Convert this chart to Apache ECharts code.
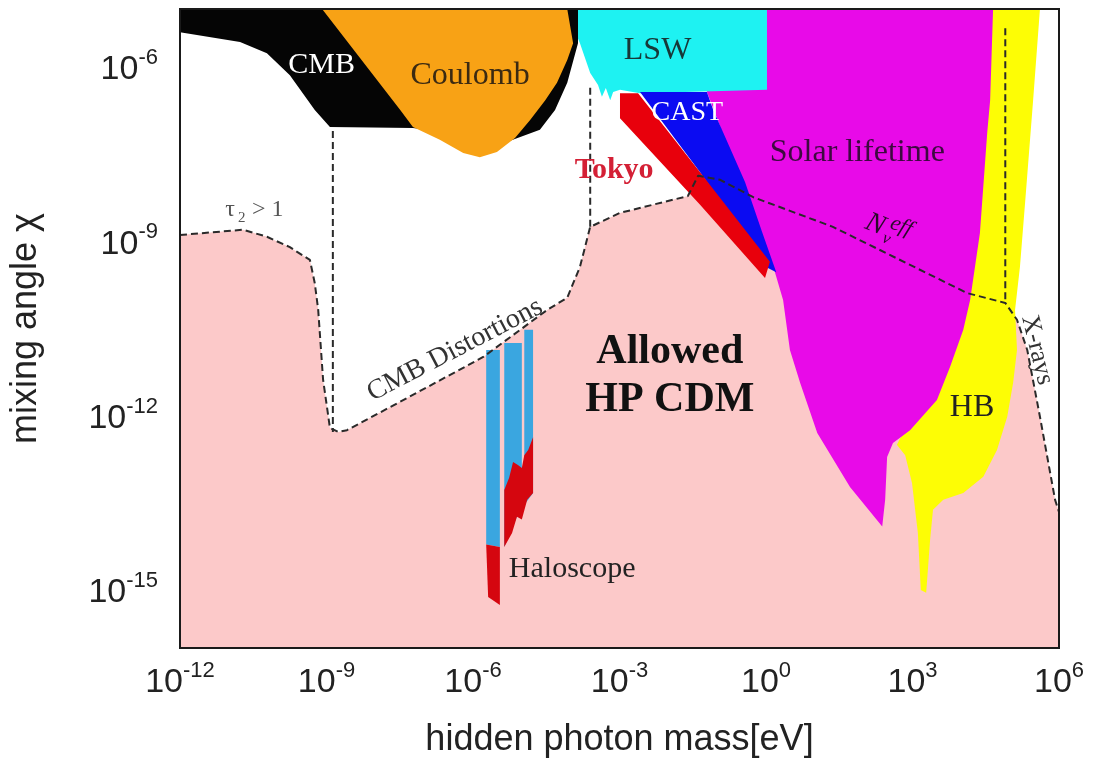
<!DOCTYPE html>
<html><head><meta charset="utf-8">
<script src="https://cdn.jsdelivr.net/npm/echarts@6/dist/echarts.min.js"></script>
<style>html,body{margin:0;padding:0;background:#fff}#c{width:1096px;height:767px}</style>
</head><body><div id="c"></div>
<script>
// All points are [log10(hidden photon mass / eV), log10(mixing angle chi)]
const xTickExponents = [-12, -9, -6, -3, 0, 3, 6];
const yTickExponents = [-15, -12, -9, -6];

// dashed boundary of the allowed HP CDM region (tau2>1, CMB distortions, N_eff, X-rays)
const allowedBoundary = [[-12.00,-8.89],[-10.71,-8.80],[-10.22,-8.92],[-9.75,-9.10],[-9.34,-9.32],[-9.24,-9.72],[-9.17,-10.18],[-9.07,-11.38],[-8.93,-12.21],[-8.76,-12.28],[-8.58,-12.25],[-7.49,-11.76],[-5.79,-10.99],[-4.48,-10.18],[-4.07,-9.97],[-3.81,-9.44],[-3.60,-8.75],[-2.99,-8.51],[-1.60,-8.22],[-1.39,-7.87],[-0.94,-7.94],[-0.26,-8.24],[1.37,-8.75],[4.12,-9.89],[4.90,-10.06],[5.14,-10.35],[5.35,-10.87],[5.61,-12.02],[5.92,-13.45],[6.00,-13.66]];
const allowedCorners = [[6.00,-16],[-12.00,-16]];
const cmbDistLeft = [[-8.87,-7.10],[-8.87,-12.28]];
const cmbDistRight = [[-3.60,-8.75],[-3.60,-6.31]];
const xrayVertical = [[4.90,-5.33],[4.90,-10.06]];

const cmbRegion = [[-12,-5],[-3.85,-5],[-3.85,-5.59],[-4.07,-6.27],[-4.32,-6.74],[-4.63,-7.08],[-5.24,-7.27],[-7.23,-7.05],[-8.93,-7.03],[-9.24,-6.74],[-9.75,-6.14],[-10.22,-5.76],[-10.77,-5.57],[-12,-5.40]];
const coulombRegion = [[-9.09,-5],[-4.07,-5],[-3.95,-5.59],[-4.07,-5.88],[-4.28,-6.27],[-4.52,-6.57],[-4.83,-6.91],[-5.14,-7.22],[-5.51,-7.46],[-5.86,-7.55],[-6.20,-7.48],[-6.68,-7.25],[-7.23,-7.03],[-7.49,-6.74]];
const lswRegion = [[-4.07,-5],[0.02,-5],[0.02,-6.39],[-2.58,-6.45],[-2.99,-6.39],[-3.13,-6.43],[-3.19,-6.57],[-3.28,-6.36],[-3.36,-6.51],[-3.44,-6.31],[-3.60,-6.10],[-3.81,-5.59],[-4.01,-5.19]];
const solarRegion = [[-1.21,-5],[4.65,-5],[4.59,-6.57],[4.53,-7.13],[4.38,-8.86],[4.18,-10.01],[4.04,-10.52],[3.77,-11.16],[3.50,-11.73],[2.95,-12.25],[2.60,-12.47],[2.48,-12.71],[2.44,-13.45],[2.38,-13.91],[1.72,-13.23],[1.05,-12.30],[0.70,-11.44],[0.49,-10.87],[0.35,-10.01],[0.12,-9.35],[-1.21,-6.43]];
const hbRegion = [[4.28,-5],[5.61,-5],[5.47,-6.57],[5.31,-8.29],[5.20,-9.44],[5.10,-10.18],[5.14,-10.87],[5.06,-11.44],[4.94,-12.02],[4.73,-12.59],[4.45,-13.05],[4.04,-13.33],[3.63,-13.45],[3.42,-13.62],[3.36,-14.14],[3.28,-15.05],[3.17,-15.00],[3.11,-14.02],[2.99,-13.16],[2.85,-12.68],[2.68,-12.50],[3.15,-11.73],[3.77,-10.01]];
const castRegion = [[-2.68,-6.43],[-1.21,-6.43],[-1.08,-6.74],[-0.43,-7.98],[-0.08,-8.84],[0.21,-9.53],[0.04,-9.46],[-1.35,-7.81],[-2.58,-6.43]];
const tokyoRegion = [[-2.99,-6.45],[-2.62,-6.45],[-1.35,-7.81],[0.08,-9.35],[-0.02,-9.63],[-1.35,-8.37],[-2.99,-6.88]];
const haloBlue1 = [[-5.73,-10.87],[-5.45,-10.87],[-5.45,-14.26],[-5.73,-14.22]];
const haloBlue2 = [[-5.36,-10.75],[-5.00,-10.75],[-5.00,-13.54],[-5.36,-14.26]];
const haloBlue3 = [[-4.95,-10.52],[-4.77,-10.52],[-4.77,-13.33],[-4.95,-13.54]];
const haloRed1 = [[-5.73,-14.22],[-5.45,-14.26],[-5.45,-15.26],[-5.69,-15.12]];
const haloRed2 = [[-5.36,-13.28],[-5.26,-13.07],[-5.18,-12.80],[-5.08,-12.85],[-5.00,-12.90],[-4.95,-12.68],[-4.87,-12.59],[-4.77,-12.37],[-4.77,-13.33],[-4.89,-13.45],[-5.00,-13.79],[-5.10,-13.74],[-5.20,-14.02],[-5.36,-14.26]];

// text annotations: [id, log10 mass, log10 chi]
const annotations = [
  ['CMB', -9.10, -5.96], ['Coulomb', -6.06, -6.14], ['LSW', -2.22, -5.71], ['CAST', -1.61, -6.79],
  ['Tokyo', -3.11, -7.77], ['Solar lifetime', 1.87, -7.48], ['Neff', 2.50, -8.80], ['tau', -10.36, -8.46],
  ['CMB Distortions', -6.37, -10.87], ['Allowed', -1.97, -10.90], ['HP CDM', -1.97, -11.73],
  ['HB', 4.22, -11.87], ['X-rays', 5.55, -10.87], ['Haloscope', -3.97, -14.65]
];

const SERIF = "'Liberation Serif','DejaVu Serif',serif";
const SANS = "'Liberation Sans',Arial,sans-serif";
const annStyle = {
  'CMB': {fill:'#ffffff', fontSize:30},
  'Coulomb': {fill:'#3b2a12', fontSize:32},
  'LSW': {fill:'#173838', fontSize:32},
  'CAST': {fill:'#ffffff', fontSize:28},
  'Tokyo': {fill:'#d42035', fontSize:30, fontWeight:'bold'},
  'Solar lifetime': {fill:'#3d0a40', fontSize:32},
  'CMB Distortions': {fill:'#333333', fontSize:28, rotation:0.48},
  'Allowed': {fill:'#111111', fontSize:42, fontWeight:'bold'},
  'HP CDM': {fill:'#111111', fontSize:42, fontWeight:'bold'},
  'HB': {fill:'#222222', fontSize:32},
  'X-rays': {fill:'#333333', fontSize:26, rotation:-1.33},
  'Haloscope': {fill:'#222222', fontSize:30}
};

function poly(pts, color, z) {
  return {
    type:'custom', z:z, silent:true, clip:true,
    data:[pts[0]],
    renderItem:function(params, api){
      return {type:'polygon', shape:{points: pts.map(function(p){return api.coord(p);})}, style:{fill:color}};
    }
  };
}
function dashed(pts) {
  return {type:'line', z:20, silent:true, data:pts, showSymbol:false, symbol:'none',
    lineStyle:{color:'#2a2a2a', width:2, type:[7,4]}};
}

const labelRich = {
  b:{fontSize:34, lineHeight:40, fontFamily:SANS, color:'#222', verticalAlign:'bottom'},
  s:{fontSize:22, lineHeight:22, fontFamily:SANS, color:'#222', verticalAlign:'top'}
};

const chart = echarts.init(document.getElementById('c'), null, {renderer:'canvas'});
chart.setOption({
  animation:false,
  backgroundColor:'#ffffff',
  grid:{left:180, right:37, top:9, bottom:119, containLabel:false, outerBoundsMode:'none',
    show:true, borderColor:'#1a1a1a', borderWidth:2, z:30, backgroundColor:'transparent'},
  xAxis:{type:'value', min:-12, max:6, interval:3,
    axisLine:{show:false}, axisTick:{show:false}, splitLine:{show:false},
    axisLabel:{margin:12, formatter:function(v){ return xTickExponents.indexOf(v) >= 0 ? '{b|10}{s|' + v + '}' : ''; }, rich:labelRich},
    name:'hidden photon mass[eV]', nameLocation:'middle', nameGap:74,
    nameTextStyle:{fontSize:36, fontFamily:SANS, color:'#222'}},
  yAxis:{type:'value', min:-16, max:-5, interval:1,
    axisLine:{show:false}, axisTick:{show:false}, splitLine:{show:false},
    axisLabel:{margin:22, formatter:function(v){ return yTickExponents.indexOf(v) >= 0 ? '{b|10}{s|' + v + '}' : ''; }, rich:labelRich},
    name:'mixing angle \u03c7', nameLocation:'middle', nameGap:136, nameRotate:90,
    nameTextStyle:{fontSize:36, fontFamily:SANS, color:'#222'}},
  series:[
    poly(allowedBoundary.concat(allowedCorners), '#fcc9c9', 2),
    poly(hbRegion, '#fdfd05', 3),
    poly(solarRegion, '#e80ae8', 4),
    poly(lswRegion, '#1ef2f2', 5),
    poly(cmbRegion, '#050505', 5),
    poly(coulombRegion, '#f8a215', 6),
    poly(castRegion, '#0b0bf2', 7),
    poly(tokyoRegion, '#e8000c', 8),
    poly(haloBlue1, '#3aa6e0', 9),
    poly(haloBlue2, '#3aa6e0', 9),
    poly(haloBlue3, '#3aa6e0', 9),
    poly(haloRed1, '#d5060f', 10),
    poly(haloRed2, '#d5060f', 10),
    dashed(allowedBoundary), dashed(cmbDistLeft), dashed(cmbDistRight), dashed(xrayVertical),
    {
      type:'custom', z:25, silent:true, clip:false,
      data: annotations.map(function(a, i){ return [a[1], a[2], i]; }),
      renderItem:function(params, api){
        const a = annotations[api.value(2)];
        const p = api.coord([api.value(0), api.value(1)]);
        if (a[0] === 'Neff') {
          return {type:'group', x:p[0], y:p[1], rotation:-0.38, children:[
            {type:'text', x:-14, y:0, style:{text:'N', fill:'#2a0a2a', fontSize:28, fontStyle:'italic', fontFamily:SERIF, align:'center', verticalAlign:'middle'}},
            {type:'text', x:-2, y:9, style:{text:'\u03bd', fill:'#2a0a2a', fontSize:17, fontStyle:'italic', fontFamily:SERIF, align:'left', verticalAlign:'middle'}},
            {type:'text', x:0, y:-8, style:{text:'eff', fill:'#2a0a2a', fontSize:22, fontStyle:'italic', fontFamily:SERIF, align:'left', verticalAlign:'middle'}}
          ]};
        }
        if (a[0] === 'tau') {
          return {type:'group', x:p[0], y:p[1], children:[
            {type:'text', x:-30, y:0, style:{text:'\u03c4', fill:'#555', fontSize:24, fontFamily:SERIF, align:'center', verticalAlign:'middle'}},
            {type:'text', x:-22, y:8, style:{text:'2', fill:'#555', fontSize:15, fontFamily:SERIF, align:'left', verticalAlign:'middle'}},
            {type:'text', x:-8, y:0, style:{text:'> 1', fill:'#555', fontSize:24, fontFamily:SERIF, align:'left', verticalAlign:'middle'}}
          ]};
        }
        const st = annStyle[a[0]];
        return {type:'text', x:p[0], y:p[1], rotation:st.rotation || 0,
          style:{text:a[0], fill:st.fill, fontSize:st.fontSize, fontWeight:st.fontWeight || 'normal',
            fontFamily:SERIF, align:'center', verticalAlign:'middle'}};
      }
    }
  ]
});
</script></body></html>
